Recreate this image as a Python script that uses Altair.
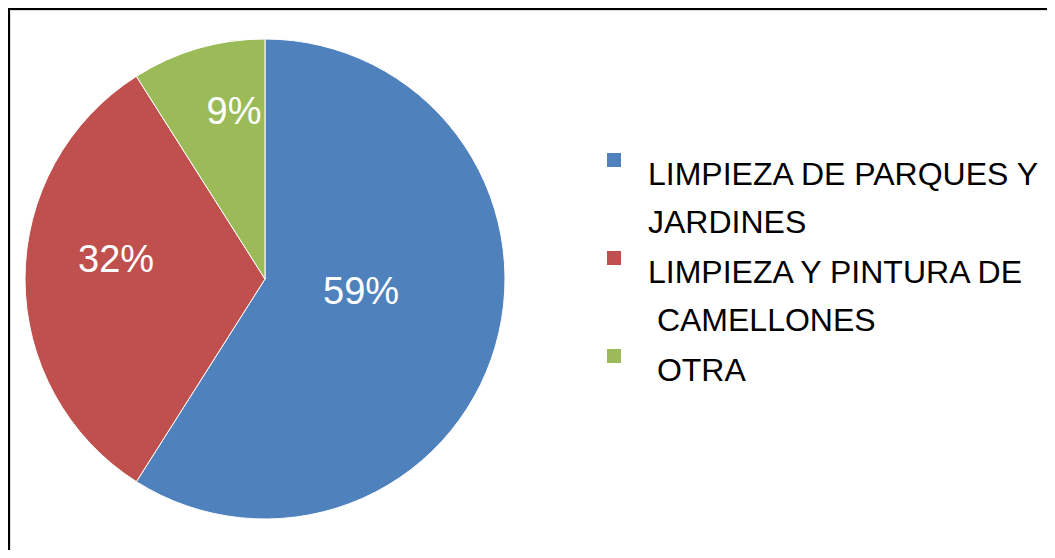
import altair as alt
import pandas as pd

# ---- data ----
categories = ["LIMPIEZA DE PARQUES Y\nJARDINES",
              "LIMPIEZA Y PINTURA DE\n\u200b\u00a0CAMELLONES",
              "\u200b\u00a0OTRA"]
values = [59, 32, 9]
labels = ["59%", "32%", "9%"]
colors = ["#4F81BD", "#C0504D", "#9BBB59"]

df = pd.DataFrame({"cat": categories, "value": values,
                   "label": labels, "order": list(range(len(categories)))})

W, H = 1037, 540
CX, CY, R = 255, 269, 240
FONT = "Liberation Sans"

theta = alt.Theta("value:Q", stack=True)
order = alt.Order("order:Q")

arc = alt.Chart(df).mark_arc(outerRadius=R, stroke="white", strokeWidth=1).encode(
    theta=theta,
    order=order,
    x=alt.value(CX),
    y=alt.value(CY),
    color=alt.Color(
        "cat:N",
        scale=alt.Scale(domain=categories, range=colors),
        legend=alt.Legend(
            title=None, orient="none", legendX=588, legendY=134,
            symbolType="square", symbolSize=196, symbolStrokeWidth=0,
            labelFont=FONT, labelFontSize=32, labelColor="black",
            labelLimit=0, labelBaseline="top",
            labelExpr="split(datum.label, '\\n')",
            labelOffset=18, rowPadding=3, padding=0,
        ),
    ),
)

# label placement style per slice (radius px, angular offset rad)
label_style = [(97, -0.143), (150, 0.123), (169, 0.098)]
texts = []
for i, (rad, off) in enumerate(label_style):
    texts.append(
        alt.Chart(df)
        .transform_calculate(t=f"datum.order == {i} ? datum.label : ''")
        .mark_text(radius=rad, thetaOffset=off, font=FONT, fontSize=38,
                   color="white", align="center", baseline="middle")
        .encode(theta=theta, order=order, text="t:N",
                x=alt.value(CX), y=alt.value(CY))
    )

frame_data = alt.Data(values=[{"k": 0}])
vline = alt.Chart(frame_data).mark_rule(color="black", strokeWidth=2).encode(
    x=alt.value(-1), y=alt.value(-2), y2=alt.value(H + 20))
hline = alt.Chart(frame_data).mark_rule(color="black", strokeWidth=2).encode(
    x=alt.value(-2), x2=alt.value(W + 20), y=alt.value(-1))

chart = alt.layer(arc, *texts, vline, hline).properties(
    width=W, height=H,
    padding={"left": 2, "top": 2, "right": 0, "bottom": 0},
    autosize=alt.AutoSizeParams(type="none"),
).configure_view(stroke=None).configure(
    style={"guide-label": {"lineHeight": 48}}
)

chart.save("out.html", embed_options={"renderer": "svg", "actions": False})
